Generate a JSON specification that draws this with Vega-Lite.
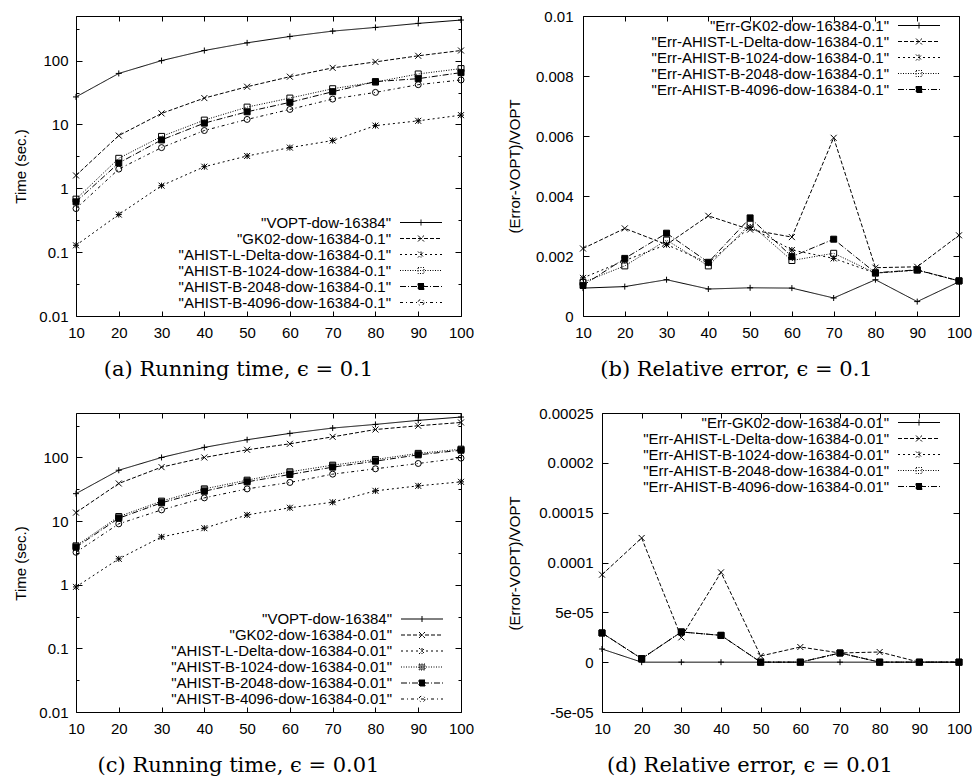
{
  "$schema": "https://vega.github.io/schema/vega-lite/v6.json",
  "background": "white",
  "padding": {"left": 12, "top": 8, "right": 0, "bottom": 0},
  "autosize": {"type": "pad"},
  "spacing": 25,
  "datasets": {
    "a": [
      {"x":10,"s":"\"VOPT-dow-16384\"","v":27},{"x":20,"s":"\"VOPT-dow-16384\"","v":63},{"x":30,"s":"\"VOPT-dow-16384\"","v":100},{"x":40,"s":"\"VOPT-dow-16384\"","v":144},{"x":50,"s":"\"VOPT-dow-16384\"","v":190},{"x":60,"s":"\"VOPT-dow-16384\"","v":239},{"x":70,"s":"\"VOPT-dow-16384\"","v":290},{"x":80,"s":"\"VOPT-dow-16384\"","v":331},{"x":90,"s":"\"VOPT-dow-16384\"","v":383},{"x":100,"s":"\"VOPT-dow-16384\"","v":432},
      {"x":10,"s":"\"GK02-dow-16384-0.1\"","v":1.59},{"x":20,"s":"\"GK02-dow-16384-0.1\"","v":6.7},{"x":30,"s":"\"GK02-dow-16384-0.1\"","v":14.9},{"x":40,"s":"\"GK02-dow-16384-0.1\"","v":25.9},{"x":50,"s":"\"GK02-dow-16384-0.1\"","v":39},{"x":60,"s":"\"GK02-dow-16384-0.1\"","v":56},{"x":70,"s":"\"GK02-dow-16384-0.1\"","v":77},{"x":80,"s":"\"GK02-dow-16384-0.1\"","v":95.5},{"x":90,"s":"\"GK02-dow-16384-0.1\"","v":119},{"x":100,"s":"\"GK02-dow-16384-0.1\"","v":144},
      {"x":10,"s":"\"AHIST-L-Delta-dow-16384-0.1\"","v":0.128},{"x":20,"s":"\"AHIST-L-Delta-dow-16384-0.1\"","v":0.388},{"x":30,"s":"\"AHIST-L-Delta-dow-16384-0.1\"","v":1.1},{"x":40,"s":"\"AHIST-L-Delta-dow-16384-0.1\"","v":2.18},{"x":50,"s":"\"AHIST-L-Delta-dow-16384-0.1\"","v":3.21},{"x":60,"s":"\"AHIST-L-Delta-dow-16384-0.1\"","v":4.34},{"x":70,"s":"\"AHIST-L-Delta-dow-16384-0.1\"","v":5.6},{"x":80,"s":"\"AHIST-L-Delta-dow-16384-0.1\"","v":9.6},{"x":90,"s":"\"AHIST-L-Delta-dow-16384-0.1\"","v":11.4},{"x":100,"s":"\"AHIST-L-Delta-dow-16384-0.1\"","v":14.0},
      {"x":10,"s":"\"AHIST-B-1024-dow-16384-0.1\"","v":0.676},{"x":20,"s":"\"AHIST-B-1024-dow-16384-0.1\"","v":2.95},{"x":30,"s":"\"AHIST-B-1024-dow-16384-0.1\"","v":6.5},{"x":40,"s":"\"AHIST-B-1024-dow-16384-0.1\"","v":11.7},{"x":50,"s":"\"AHIST-B-1024-dow-16384-0.1\"","v":18.7},{"x":60,"s":"\"AHIST-B-1024-dow-16384-0.1\"","v":25.9},{"x":70,"s":"\"AHIST-B-1024-dow-16384-0.1\"","v":36.3},{"x":80,"s":"\"AHIST-B-1024-dow-16384-0.1\"","v":46.2},{"x":90,"s":"\"AHIST-B-1024-dow-16384-0.1\"","v":61.8},{"x":100,"s":"\"AHIST-B-1024-dow-16384-0.1\"","v":75},
      {"x":10,"s":"\"AHIST-B-2048-dow-16384-0.1\"","v":0.614},{"x":20,"s":"\"AHIST-B-2048-dow-16384-0.1\"","v":2.49},{"x":30,"s":"\"AHIST-B-2048-dow-16384-0.1\"","v":5.73},{"x":40,"s":"\"AHIST-B-2048-dow-16384-0.1\"","v":10.5},{"x":50,"s":"\"AHIST-B-2048-dow-16384-0.1\"","v":15.8},{"x":60,"s":"\"AHIST-B-2048-dow-16384-0.1\"","v":22.2},{"x":70,"s":"\"AHIST-B-2048-dow-16384-0.1\"","v":32.6},{"x":80,"s":"\"AHIST-B-2048-dow-16384-0.1\"","v":46.9},{"x":90,"s":"\"AHIST-B-2048-dow-16384-0.1\"","v":52.2},{"x":100,"s":"\"AHIST-B-2048-dow-16384-0.1\"","v":64.9},
      {"x":10,"s":"\"AHIST-B-4096-dow-16384-0.1\"","v":0.482},{"x":20,"s":"\"AHIST-B-4096-dow-16384-0.1\"","v":2.0},{"x":30,"s":"\"AHIST-B-4096-dow-16384-0.1\"","v":4.34},{"x":40,"s":"\"AHIST-B-4096-dow-16384-0.1\"","v":8.04},{"x":50,"s":"\"AHIST-B-4096-dow-16384-0.1\"","v":12.0},{"x":60,"s":"\"AHIST-B-4096-dow-16384-0.1\"","v":17.2},{"x":70,"s":"\"AHIST-B-4096-dow-16384-0.1\"","v":25.0},{"x":80,"s":"\"AHIST-B-4096-dow-16384-0.1\"","v":31.8},{"x":90,"s":"\"AHIST-B-4096-dow-16384-0.1\"","v":42.0},{"x":100,"s":"\"AHIST-B-4096-dow-16384-0.1\"","v":49.8}
    ],
    "b": [
      {"x":10,"s":"\"Err-GK02-dow-16384-0.1\"","v":0.00093},{"x":20,"s":"\"Err-GK02-dow-16384-0.1\"","v":0.00098},{"x":30,"s":"\"Err-GK02-dow-16384-0.1\"","v":0.00121},{"x":40,"s":"\"Err-GK02-dow-16384-0.1\"","v":0.0009},{"x":50,"s":"\"Err-GK02-dow-16384-0.1\"","v":0.00094},{"x":60,"s":"\"Err-GK02-dow-16384-0.1\"","v":0.00093},{"x":70,"s":"\"Err-GK02-dow-16384-0.1\"","v":0.0006},{"x":80,"s":"\"Err-GK02-dow-16384-0.1\"","v":0.00121},{"x":90,"s":"\"Err-GK02-dow-16384-0.1\"","v":0.00048},{"x":100,"s":"\"Err-GK02-dow-16384-0.1\"","v":0.00114},
      {"x":10,"s":"\"Err-AHIST-L-Delta-dow-16384-0.1\"","v":0.00225},{"x":20,"s":"\"Err-AHIST-L-Delta-dow-16384-0.1\"","v":0.00292},{"x":30,"s":"\"Err-AHIST-L-Delta-dow-16384-0.1\"","v":0.00238},{"x":40,"s":"\"Err-AHIST-L-Delta-dow-16384-0.1\"","v":0.00334},{"x":50,"s":"\"Err-AHIST-L-Delta-dow-16384-0.1\"","v":0.00288},{"x":60,"s":"\"Err-AHIST-L-Delta-dow-16384-0.1\"","v":0.00263},{"x":70,"s":"\"Err-AHIST-L-Delta-dow-16384-0.1\"","v":0.00594},{"x":80,"s":"\"Err-AHIST-L-Delta-dow-16384-0.1\"","v":0.00161},{"x":90,"s":"\"Err-AHIST-L-Delta-dow-16384-0.1\"","v":0.00164},{"x":100,"s":"\"Err-AHIST-L-Delta-dow-16384-0.1\"","v":0.00269},
      {"x":10,"s":"\"Err-AHIST-B-1024-dow-16384-0.1\"","v":0.00127},{"x":20,"s":"\"Err-AHIST-B-1024-dow-16384-0.1\"","v":0.00185},{"x":30,"s":"\"Err-AHIST-B-1024-dow-16384-0.1\"","v":0.00238},{"x":40,"s":"\"Err-AHIST-B-1024-dow-16384-0.1\"","v":0.00177},{"x":50,"s":"\"Err-AHIST-B-1024-dow-16384-0.1\"","v":0.00296},{"x":60,"s":"\"Err-AHIST-B-1024-dow-16384-0.1\"","v":0.0022},{"x":70,"s":"\"Err-AHIST-B-1024-dow-16384-0.1\"","v":0.00192},{"x":80,"s":"\"Err-AHIST-B-1024-dow-16384-0.1\"","v":0.00143},{"x":90,"s":"\"Err-AHIST-B-1024-dow-16384-0.1\"","v":0.00153},{"x":100,"s":"\"Err-AHIST-B-1024-dow-16384-0.1\"","v":0.00117},
      {"x":10,"s":"\"Err-AHIST-B-2048-dow-16384-0.1\"","v":0.00112},{"x":20,"s":"\"Err-AHIST-B-2048-dow-16384-0.1\"","v":0.00167},{"x":30,"s":"\"Err-AHIST-B-2048-dow-16384-0.1\"","v":0.00253},{"x":40,"s":"\"Err-AHIST-B-2048-dow-16384-0.1\"","v":0.00167},{"x":50,"s":"\"Err-AHIST-B-2048-dow-16384-0.1\"","v":0.00306},{"x":60,"s":"\"Err-AHIST-B-2048-dow-16384-0.1\"","v":0.00185},{"x":70,"s":"\"Err-AHIST-B-2048-dow-16384-0.1\"","v":0.00209},{"x":80,"s":"\"Err-AHIST-B-2048-dow-16384-0.1\"","v":0.00143},{"x":90,"s":"\"Err-AHIST-B-2048-dow-16384-0.1\"","v":0.00153},{"x":100,"s":"\"Err-AHIST-B-2048-dow-16384-0.1\"","v":0.00117},
      {"x":10,"s":"\"Err-AHIST-B-4096-dow-16384-0.1\"","v":0.00102},{"x":20,"s":"\"Err-AHIST-B-4096-dow-16384-0.1\"","v":0.00192},{"x":30,"s":"\"Err-AHIST-B-4096-dow-16384-0.1\"","v":0.00276},{"x":40,"s":"\"Err-AHIST-B-4096-dow-16384-0.1\"","v":0.00179},{"x":50,"s":"\"Err-AHIST-B-4096-dow-16384-0.1\"","v":0.00327},{"x":60,"s":"\"Err-AHIST-B-4096-dow-16384-0.1\"","v":0.00198},{"x":70,"s":"\"Err-AHIST-B-4096-dow-16384-0.1\"","v":0.00256},{"x":80,"s":"\"Err-AHIST-B-4096-dow-16384-0.1\"","v":0.00144},{"x":90,"s":"\"Err-AHIST-B-4096-dow-16384-0.1\"","v":0.00154},{"x":100,"s":"\"Err-AHIST-B-4096-dow-16384-0.1\"","v":0.00117}
    ],
    "c": [
      {"x":10,"s":"\"VOPT-dow-16384\"","v":27},{"x":20,"s":"\"VOPT-dow-16384\"","v":63},{"x":30,"s":"\"VOPT-dow-16384\"","v":100},{"x":40,"s":"\"VOPT-dow-16384\"","v":144},{"x":50,"s":"\"VOPT-dow-16384\"","v":190},{"x":60,"s":"\"VOPT-dow-16384\"","v":239},{"x":70,"s":"\"VOPT-dow-16384\"","v":290},{"x":80,"s":"\"VOPT-dow-16384\"","v":331},{"x":90,"s":"\"VOPT-dow-16384\"","v":383},{"x":100,"s":"\"VOPT-dow-16384\"","v":432},
      {"x":10,"s":"\"GK02-dow-16384-0.01\"","v":13.6},{"x":20,"s":"\"GK02-dow-16384-0.01\"","v":39},{"x":30,"s":"\"GK02-dow-16384-0.01\"","v":70.5},{"x":40,"s":"\"GK02-dow-16384-0.01\"","v":100},{"x":50,"s":"\"GK02-dow-16384-0.01\"","v":132},{"x":60,"s":"\"GK02-dow-16384-0.01\"","v":164},{"x":70,"s":"\"GK02-dow-16384-0.01\"","v":211},{"x":80,"s":"\"GK02-dow-16384-0.01\"","v":275},{"x":90,"s":"\"GK02-dow-16384-0.01\"","v":315},{"x":100,"s":"\"GK02-dow-16384-0.01\"","v":355},
      {"x":10,"s":"\"AHIST-L-Delta-dow-16384-0.01\"","v":0.925},{"x":20,"s":"\"AHIST-L-Delta-dow-16384-0.01\"","v":2.55},{"x":30,"s":"\"AHIST-L-Delta-dow-16384-0.01\"","v":5.65},{"x":40,"s":"\"AHIST-L-Delta-dow-16384-0.01\"","v":7.74},{"x":50,"s":"\"AHIST-L-Delta-dow-16384-0.01\"","v":12.5},{"x":60,"s":"\"AHIST-L-Delta-dow-16384-0.01\"","v":16.2},{"x":70,"s":"\"AHIST-L-Delta-dow-16384-0.01\"","v":19.8},{"x":80,"s":"\"AHIST-L-Delta-dow-16384-0.01\"","v":29.9},{"x":90,"s":"\"AHIST-L-Delta-dow-16384-0.01\"","v":35.8},{"x":100,"s":"\"AHIST-L-Delta-dow-16384-0.01\"","v":41.4},
      {"x":10,"s":"\"AHIST-B-1024-dow-16384-0.01\"","v":4.08},{"x":20,"s":"\"AHIST-B-1024-dow-16384-0.01\"","v":11.8},{"x":30,"s":"\"AHIST-B-1024-dow-16384-0.01\"","v":20.6},{"x":40,"s":"\"AHIST-B-1024-dow-16384-0.01\"","v":32.1},{"x":50,"s":"\"AHIST-B-1024-dow-16384-0.01\"","v":44},{"x":60,"s":"\"AHIST-B-1024-dow-16384-0.01\"","v":59.5},{"x":70,"s":"\"AHIST-B-1024-dow-16384-0.01\"","v":75.7},{"x":80,"s":"\"AHIST-B-1024-dow-16384-0.01\"","v":93},{"x":90,"s":"\"AHIST-B-1024-dow-16384-0.01\"","v":116},{"x":100,"s":"\"AHIST-B-1024-dow-16384-0.01\"","v":135},
      {"x":10,"s":"\"AHIST-B-2048-dow-16384-0.01\"","v":3.89},{"x":20,"s":"\"AHIST-B-2048-dow-16384-0.01\"","v":11.1},{"x":30,"s":"\"AHIST-B-2048-dow-16384-0.01\"","v":19.4},{"x":40,"s":"\"AHIST-B-2048-dow-16384-0.01\"","v":29.5},{"x":50,"s":"\"AHIST-B-2048-dow-16384-0.01\"","v":41.4},{"x":60,"s":"\"AHIST-B-2048-dow-16384-0.01\"","v":54},{"x":70,"s":"\"AHIST-B-2048-dow-16384-0.01\"","v":70.5},{"x":80,"s":"\"AHIST-B-2048-dow-16384-0.01\"","v":87.5},{"x":90,"s":"\"AHIST-B-2048-dow-16384-0.01\"","v":110},{"x":100,"s":"\"AHIST-B-2048-dow-16384-0.01\"","v":130},
      {"x":10,"s":"\"AHIST-B-4096-dow-16384-0.01\"","v":3.24},{"x":20,"s":"\"AHIST-B-4096-dow-16384-0.01\"","v":9.06},{"x":30,"s":"\"AHIST-B-4096-dow-16384-0.01\"","v":15.0},{"x":40,"s":"\"AHIST-B-4096-dow-16384-0.01\"","v":23.2},{"x":50,"s":"\"AHIST-B-4096-dow-16384-0.01\"","v":32.1},{"x":60,"s":"\"AHIST-B-4096-dow-16384-0.01\"","v":40.5},{"x":70,"s":"\"AHIST-B-4096-dow-16384-0.01\"","v":54.7},{"x":80,"s":"\"AHIST-B-4096-dow-16384-0.01\"","v":66.4},{"x":90,"s":"\"AHIST-B-4096-dow-16384-0.01\"","v":80.5},{"x":100,"s":"\"AHIST-B-4096-dow-16384-0.01\"","v":97.7}
    ],
    "d": [
      {"x":10,"s":"\"Err-GK02-dow-16384-0.01\"","v":0.0000132},{"x":20,"s":"\"Err-GK02-dow-16384-0.01\"","v":0},{"x":30,"s":"\"Err-GK02-dow-16384-0.01\"","v":0},{"x":40,"s":"\"Err-GK02-dow-16384-0.01\"","v":0},{"x":50,"s":"\"Err-GK02-dow-16384-0.01\"","v":0},{"x":60,"s":"\"Err-GK02-dow-16384-0.01\"","v":0},{"x":70,"s":"\"Err-GK02-dow-16384-0.01\"","v":0},{"x":80,"s":"\"Err-GK02-dow-16384-0.01\"","v":0},{"x":90,"s":"\"Err-GK02-dow-16384-0.01\"","v":0},{"x":100,"s":"\"Err-GK02-dow-16384-0.01\"","v":0},
      {"x":10,"s":"\"Err-AHIST-L-Delta-dow-16384-0.01\"","v":0.0000878},{"x":20,"s":"\"Err-AHIST-L-Delta-dow-16384-0.01\"","v":0.0001246},{"x":30,"s":"\"Err-AHIST-L-Delta-dow-16384-0.01\"","v":0.0000249},{"x":40,"s":"\"Err-AHIST-L-Delta-dow-16384-0.01\"","v":0.0000901},{"x":50,"s":"\"Err-AHIST-L-Delta-dow-16384-0.01\"","v":0.0000062},{"x":60,"s":"\"Err-AHIST-L-Delta-dow-16384-0.01\"","v":0.0000152},{"x":70,"s":"\"Err-AHIST-L-Delta-dow-16384-0.01\"","v":0.0000092},{"x":80,"s":"\"Err-AHIST-L-Delta-dow-16384-0.01\"","v":0.0000102},{"x":90,"s":"\"Err-AHIST-L-Delta-dow-16384-0.01\"","v":0},{"x":100,"s":"\"Err-AHIST-L-Delta-dow-16384-0.01\"","v":0},
      {"x":10,"s":"\"Err-AHIST-B-1024-dow-16384-0.01\"","v":0.0000293},{"x":20,"s":"\"Err-AHIST-B-1024-dow-16384-0.01\"","v":0.0000035},{"x":30,"s":"\"Err-AHIST-B-1024-dow-16384-0.01\"","v":0.0000303},{"x":40,"s":"\"Err-AHIST-B-1024-dow-16384-0.01\"","v":0.0000269},{"x":50,"s":"\"Err-AHIST-B-1024-dow-16384-0.01\"","v":0},{"x":60,"s":"\"Err-AHIST-B-1024-dow-16384-0.01\"","v":0},{"x":70,"s":"\"Err-AHIST-B-1024-dow-16384-0.01\"","v":0.0000092},{"x":80,"s":"\"Err-AHIST-B-1024-dow-16384-0.01\"","v":0},{"x":90,"s":"\"Err-AHIST-B-1024-dow-16384-0.01\"","v":0},{"x":100,"s":"\"Err-AHIST-B-1024-dow-16384-0.01\"","v":0},
      {"x":10,"s":"\"Err-AHIST-B-2048-dow-16384-0.01\"","v":0.0000293},{"x":20,"s":"\"Err-AHIST-B-2048-dow-16384-0.01\"","v":0.0000035},{"x":30,"s":"\"Err-AHIST-B-2048-dow-16384-0.01\"","v":0.0000303},{"x":40,"s":"\"Err-AHIST-B-2048-dow-16384-0.01\"","v":0.0000269},{"x":50,"s":"\"Err-AHIST-B-2048-dow-16384-0.01\"","v":0},{"x":60,"s":"\"Err-AHIST-B-2048-dow-16384-0.01\"","v":0},{"x":70,"s":"\"Err-AHIST-B-2048-dow-16384-0.01\"","v":0.0000092},{"x":80,"s":"\"Err-AHIST-B-2048-dow-16384-0.01\"","v":0},{"x":90,"s":"\"Err-AHIST-B-2048-dow-16384-0.01\"","v":0},{"x":100,"s":"\"Err-AHIST-B-2048-dow-16384-0.01\"","v":0},
      {"x":10,"s":"\"Err-AHIST-B-4096-dow-16384-0.01\"","v":0.0000293},{"x":20,"s":"\"Err-AHIST-B-4096-dow-16384-0.01\"","v":0.0000035},{"x":30,"s":"\"Err-AHIST-B-4096-dow-16384-0.01\"","v":0.0000303},{"x":40,"s":"\"Err-AHIST-B-4096-dow-16384-0.01\"","v":0.0000269},{"x":50,"s":"\"Err-AHIST-B-4096-dow-16384-0.01\"","v":0},{"x":60,"s":"\"Err-AHIST-B-4096-dow-16384-0.01\"","v":0},{"x":70,"s":"\"Err-AHIST-B-4096-dow-16384-0.01\"","v":0.0000092},{"x":80,"s":"\"Err-AHIST-B-4096-dow-16384-0.01\"","v":0},{"x":90,"s":"\"Err-AHIST-B-4096-dow-16384-0.01\"","v":0},{"x":100,"s":"\"Err-AHIST-B-4096-dow-16384-0.01\"","v":0}
    ]
  },
  "vconcat": [
    {
      "hconcat": [
        {
          "width": 385, "height": 300,
          "data": {"name": "a"},
          "layer": [
            {
              "layer": [
                {
                  "mark": {"type": "line", "strokeWidth": 1, "color": "black"},
                  "encoding": {
                    "x": {"field": "x", "type": "quantitative", "scale": {"domain": [10, 100], "nice": false},
                      "axis": {"orient": "bottom", "values": [10,20,30,40,50,60,70,80,90,100], "tickCount": 30, "tickSize": -5, "labelPadding": 14, "labelOverlap": false,
                        "title": "(a) Running time, ϵ = 0.1", "titleFont": "DejaVu Serif", "titleFontSize": 21, "titleX": 162, "titleY": 59, "titleAlign": "center", "titleBaseline": "alphabetic", "titleAngle": 0}},
                    "y": {"field": "v", "type": "quantitative", "scale": {"type": "log", "domain": [0.01, 500], "nice": false},
                      "axis": {"orient": "left", "values": [0.01,0.031623,0.1,0.31623,1,3.1623,10,31.623,100,316.23], "tickCount": 30, "labelOverlap": false,
                        "tickSize": {"condition": {"test": "indexof([0.01,0.1,1,10,100], datum.value) < 0", "value": -3}, "value": -6},
                        "labelPadding": 14,
                        "labelExpr": "datum.value == 0.01 ? '0.01' : datum.value == 0.1 ? '0.1' : datum.value == 1 ? '1' : datum.value == 10 ? '10' : datum.value == 100 ? '100' : ''",
                        "title": "Time (sec.)", "titleX": -48, "titleY": 150, "titleAngle": 270, "titleAlign": "center", "titleBaseline": "bottom"}},
                    "strokeDash": {"field": "s", "type": "nominal",
                      "scale": {"domain": ["\"VOPT-dow-16384\"","\"GK02-dow-16384-0.1\"","\"AHIST-L-Delta-dow-16384-0.1\"","\"AHIST-B-1024-dow-16384-0.1\"","\"AHIST-B-2048-dow-16384-0.1\"","\"AHIST-B-4096-dow-16384-0.1\""],
                        "range": [[1,0],[4,2],[2,3],[1,1.5],[6,2,1,2],[3,3,1,3]]}, "legend": null}
                  }
                },
                {
                  "mark": {"type": "point", "size": 36, "strokeWidth": 1, "stroke": "black", "opacity": 1},
                  "encoding": {
                    "x": {"field": "x", "type": "quantitative"},
                    "y": {"field": "v", "type": "quantitative"},
                    "shape": {"field": "s", "type": "nominal",
                      "scale": {"domain": ["\"VOPT-dow-16384\"","\"GK02-dow-16384-0.1\"","\"AHIST-L-Delta-dow-16384-0.1\"","\"AHIST-B-1024-dow-16384-0.1\"","\"AHIST-B-2048-dow-16384-0.1\"","\"AHIST-B-4096-dow-16384-0.1\""],
                        "range": ["M-1,0H1M0,-1V1","M-1,-1L1,1M-1,1L1,-1","M-1,0H1M0,-1V1M-1,-1L1,1M-1,1L1,-1","square","square","circle"]}, "legend": null},
                    "fill": {"field": "s", "type": "nominal",
                      "scale": {"domain": ["\"VOPT-dow-16384\"","\"GK02-dow-16384-0.1\"","\"AHIST-L-Delta-dow-16384-0.1\"","\"AHIST-B-1024-dow-16384-0.1\"","\"AHIST-B-2048-dow-16384-0.1\"","\"AHIST-B-4096-dow-16384-0.1\""],
                        "range": ["black","black","black","transparent","black","transparent"]}, "legend": null}
                  }
                }
              ]
            },
            {
              "mark": {"type": "point", "opacity": 0, "size": 36, "strokeWidth": 1},
              "encoding": {
                "x": {"field": "x", "type": "quantitative", "scale": {"domain": [10, 100], "nice": false},
                  "axis": {"orient": "top", "values": [10,20,30,40,50,60,70,80,90,100], "tickCount": 30, "labels": false, "tickSize": -5, "title": null}},
                "y": {"field": "v", "type": "quantitative", "scale": {"type": "log", "domain": [0.01, 500], "nice": false},
                  "axis": {"orient": "right", "values": [0.01,0.031623,0.1,0.31623,1,3.1623,10,31.623,100,316.23], "tickCount": 30, "labels": false, "title": null,
                    "tickSize": {"condition": {"test": "indexof([0.01,0.1,1,10,100], datum.value) < 0", "value": -3}, "value": -6}}},
                "shape": {"field": "s", "type": "nominal",
                  "scale": {"domain": ["\"VOPT-dow-16384\"","\"GK02-dow-16384-0.1\"","\"AHIST-L-Delta-dow-16384-0.1\"","\"AHIST-B-1024-dow-16384-0.1\"","\"AHIST-B-2048-dow-16384-0.1\"","\"AHIST-B-4096-dow-16384-0.1\""],
                    "range": ["M-7,0H7M0,-1V1","M-7,0H7M-1,-1L1,1M-1,1L1,-1","M-7,0H7M0,-1V1M-1,-1L1,1M-1,1L1,-1","M-7,0H7M-1,-1H1V1H-1Z","M-7,0H7M-1,-1H1V1H-1Z","M-7,0H7M1,0A1,1,0,1,1,-1,0A1,1,0,1,1,1,0Z"]},
                  "legend": {"orient": "none", "legendX": 337.5, "legendY": 199, "title": null, "labelAlign": "right", "labelOffset": -37.5, "symbolSize": 36, "symbolStrokeWidth": 1, "symbolOpacity": 1, "padding": 0, "rowPadding": 0, "labelFontSize": 15, "labelFont": "Liberation Sans", "labelColor": "black", "labelLimit": 500}},
                "stroke": {"field": "s", "type": "nominal",
                  "scale": {"domain": ["\"VOPT-dow-16384\"","\"GK02-dow-16384-0.1\"","\"AHIST-L-Delta-dow-16384-0.1\"","\"AHIST-B-1024-dow-16384-0.1\"","\"AHIST-B-2048-dow-16384-0.1\"","\"AHIST-B-4096-dow-16384-0.1\""],
                    "range": ["black","black","black","black","black","black"]},
                  "legend": {"orient": "none", "legendX": 337.5, "legendY": 199, "title": null, "labelAlign": "right", "labelOffset": -37.5, "symbolSize": 36, "symbolStrokeWidth": 1, "symbolOpacity": 1, "padding": 0, "rowPadding": 0, "labelFontSize": 15, "labelFont": "Liberation Sans", "labelColor": "black", "labelLimit": 500}},
                "strokeDash": {"field": "s", "type": "nominal",
                  "scale": {"domain": ["\"VOPT-dow-16384\"","\"GK02-dow-16384-0.1\"","\"AHIST-L-Delta-dow-16384-0.1\"","\"AHIST-B-1024-dow-16384-0.1\"","\"AHIST-B-2048-dow-16384-0.1\"","\"AHIST-B-4096-dow-16384-0.1\""],
                    "range": [[1,0],[4,2],[2,3],[1,1.5],[6,2,1,2],[3,3,1,3]]},
                  "legend": {"orient": "none", "legendX": 337.5, "legendY": 199, "title": null, "labelAlign": "right", "labelOffset": -37.5, "symbolSize": 36, "symbolStrokeWidth": 1, "symbolOpacity": 1, "padding": 0, "rowPadding": 0, "labelFontSize": 15, "labelFont": "Liberation Sans", "labelColor": "black", "labelLimit": 500}},
                "fill": {"field": "s", "type": "nominal",
                  "scale": {"domain": ["\"VOPT-dow-16384\"","\"GK02-dow-16384-0.1\"","\"AHIST-L-Delta-dow-16384-0.1\"","\"AHIST-B-1024-dow-16384-0.1\"","\"AHIST-B-2048-dow-16384-0.1\"","\"AHIST-B-4096-dow-16384-0.1\""],
                    "range": ["black","black","black","transparent","black","transparent"]},
                  "legend": {"orient": "none", "legendX": 337.5, "legendY": 199, "title": null, "labelAlign": "right", "labelOffset": -37.5, "symbolSize": 36, "symbolStrokeWidth": 1, "symbolOpacity": 1, "padding": 0, "rowPadding": 0, "labelFontSize": 15, "labelFont": "Liberation Sans", "labelColor": "black", "labelLimit": 500}}
              }
            }
          ],
          "resolve": {"scale": {"x": "independent", "y": "independent", "shape": "independent", "fill": "independent", "stroke": "independent", "strokeDash": "independent"}}
        },
        {
          "width": 376, "height": 300,
          "data": {"name": "b"},
          "layer": [
            {
              "layer": [
                {
                  "mark": {"type": "line", "strokeWidth": 1, "color": "black"},
                  "encoding": {
                    "x": {"field": "x", "type": "quantitative", "scale": {"domain": [10, 100], "nice": false},
                      "axis": {"orient": "bottom", "values": [10,20,30,40,50,60,70,80,90,100], "tickCount": 30, "tickSize": -5, "labelPadding": 14, "labelOverlap": false,
                        "title": "(b) Relative error, ϵ = 0.1", "titleFont": "DejaVu Serif", "titleFontSize": 21, "titleX": 153, "titleY": 59, "titleAlign": "center", "titleBaseline": "alphabetic", "titleAngle": 0}},
                    "y": {"field": "v", "type": "quantitative", "scale": {"domain": [0, 0.01], "nice": false},
                      "axis": {"orient": "left", "values": [0,0.002,0.004,0.006,0.008,0.01], "tickCount": 30, "tickSize": -6, "labelPadding": 16, "labelOverlap": false,
                        "labelExpr": "format(datum.value, '')",
                        "title": "(Error-VOPT)/VOPT", "titleX": -61, "titleY": 150, "titleAngle": 270, "titleAlign": "center", "titleBaseline": "bottom"}},
                    "strokeDash": {"field": "s", "type": "nominal",
                      "scale": {"domain": ["\"Err-GK02-dow-16384-0.1\"","\"Err-AHIST-L-Delta-dow-16384-0.1\"","\"Err-AHIST-B-1024-dow-16384-0.1\"","\"Err-AHIST-B-2048-dow-16384-0.1\"","\"Err-AHIST-B-4096-dow-16384-0.1\""],
                        "range": [[1,0],[4,2],[2,3],[1,1.5],[6,2,1,2]]}, "legend": null}
                  }
                },
                {
                  "mark": {"type": "point", "size": 36, "strokeWidth": 1, "stroke": "black", "opacity": 1},
                  "encoding": {
                    "x": {"field": "x", "type": "quantitative"},
                    "y": {"field": "v", "type": "quantitative"},
                    "shape": {"field": "s", "type": "nominal",
                      "scale": {"domain": ["\"Err-GK02-dow-16384-0.1\"","\"Err-AHIST-L-Delta-dow-16384-0.1\"","\"Err-AHIST-B-1024-dow-16384-0.1\"","\"Err-AHIST-B-2048-dow-16384-0.1\"","\"Err-AHIST-B-4096-dow-16384-0.1\""],
                        "range": ["M-1,0H1M0,-1V1","M-1,-1L1,1M-1,1L1,-1","M-1,0H1M0,-1V1M-1,-1L1,1M-1,1L1,-1","square","square"]}, "legend": null},
                    "fill": {"field": "s", "type": "nominal",
                      "scale": {"domain": ["\"Err-GK02-dow-16384-0.1\"","\"Err-AHIST-L-Delta-dow-16384-0.1\"","\"Err-AHIST-B-1024-dow-16384-0.1\"","\"Err-AHIST-B-2048-dow-16384-0.1\"","\"Err-AHIST-B-4096-dow-16384-0.1\""],
                        "range": ["black","black","black","transparent","black"]}, "legend": null}
                  }
                }
              ]
            },
            {
              "mark": {"type": "point", "opacity": 0, "size": 36, "strokeWidth": 1},
              "encoding": {
                "x": {"field": "x", "type": "quantitative", "scale": {"domain": [10, 100], "nice": false},
                  "axis": {"orient": "top", "values": [10,20,30,40,50,60,70,80,90,100], "tickCount": 30, "labels": false, "tickSize": -5, "title": null}},
                "y": {"field": "v", "type": "quantitative", "scale": {"domain": [0, 0.01], "nice": false},
                  "axis": {"orient": "right", "values": [0,0.002,0.004,0.006,0.008,0.01], "tickCount": 30, "labels": false, "title": null, "tickSize": -6}},
                "shape": {"field": "s", "type": "nominal",
                  "scale": {"domain": ["\"Err-GK02-dow-16384-0.1\"","\"Err-AHIST-L-Delta-dow-16384-0.1\"","\"Err-AHIST-B-1024-dow-16384-0.1\"","\"Err-AHIST-B-2048-dow-16384-0.1\"","\"Err-AHIST-B-4096-dow-16384-0.1\""],
                    "range": ["M-7,0H7M0,-1V1","M-7,0H7M-1,-1L1,1M-1,1L1,-1","M-7,0H7M0,-1V1M-1,-1L1,1M-1,1L1,-1","M-7,0H7M-1,-1H1V1H-1Z","M-7,0H7M-1,-1H1V1H-1Z"]},
                  "legend": {"orient": "none", "legendX": 328.5, "legendY": 2, "title": null, "labelAlign": "right", "labelOffset": -37.5, "symbolSize": 36, "symbolStrokeWidth": 1, "symbolOpacity": 1, "padding": 0, "rowPadding": 0, "labelFontSize": 15, "labelFont": "Liberation Sans", "labelColor": "black", "labelLimit": 500}},
                "stroke": {"field": "s", "type": "nominal",
                  "scale": {"domain": ["\"Err-GK02-dow-16384-0.1\"","\"Err-AHIST-L-Delta-dow-16384-0.1\"","\"Err-AHIST-B-1024-dow-16384-0.1\"","\"Err-AHIST-B-2048-dow-16384-0.1\"","\"Err-AHIST-B-4096-dow-16384-0.1\""],
                    "range": ["black","black","black","black","black"]},
                  "legend": {"orient": "none", "legendX": 328.5, "legendY": 2, "title": null, "labelAlign": "right", "labelOffset": -37.5, "symbolSize": 36, "symbolStrokeWidth": 1, "symbolOpacity": 1, "padding": 0, "rowPadding": 0, "labelFontSize": 15, "labelFont": "Liberation Sans", "labelColor": "black", "labelLimit": 500}},
                "strokeDash": {"field": "s", "type": "nominal",
                  "scale": {"domain": ["\"Err-GK02-dow-16384-0.1\"","\"Err-AHIST-L-Delta-dow-16384-0.1\"","\"Err-AHIST-B-1024-dow-16384-0.1\"","\"Err-AHIST-B-2048-dow-16384-0.1\"","\"Err-AHIST-B-4096-dow-16384-0.1\""],
                    "range": [[1,0],[4,2],[2,3],[1,1.5],[6,2,1,2]]},
                  "legend": {"orient": "none", "legendX": 328.5, "legendY": 2, "title": null, "labelAlign": "right", "labelOffset": -37.5, "symbolSize": 36, "symbolStrokeWidth": 1, "symbolOpacity": 1, "padding": 0, "rowPadding": 0, "labelFontSize": 15, "labelFont": "Liberation Sans", "labelColor": "black", "labelLimit": 500}},
                "fill": {"field": "s", "type": "nominal",
                  "scale": {"domain": ["\"Err-GK02-dow-16384-0.1\"","\"Err-AHIST-L-Delta-dow-16384-0.1\"","\"Err-AHIST-B-1024-dow-16384-0.1\"","\"Err-AHIST-B-2048-dow-16384-0.1\"","\"Err-AHIST-B-4096-dow-16384-0.1\""],
                    "range": ["black","black","black","transparent","black"]},
                  "legend": {"orient": "none", "legendX": 328.5, "legendY": 2, "title": null, "labelAlign": "right", "labelOffset": -37.5, "symbolSize": 36, "symbolStrokeWidth": 1, "symbolOpacity": 1, "padding": 0, "rowPadding": 0, "labelFontSize": 15, "labelFont": "Liberation Sans", "labelColor": "black", "labelLimit": 500}}
              }
            }
          ],
          "resolve": {"scale": {"x": "independent", "y": "independent", "shape": "independent", "fill": "independent", "stroke": "independent", "strokeDash": "independent"}}
        }
      ],
      "spacing": 122,
      "bounds": "flush"
    },
    {
      "hconcat": [
        {
          "width": 385, "height": 299,
          "data": {"name": "c"},
          "layer": [
            {
              "layer": [
                {
                  "mark": {"type": "line", "strokeWidth": 1, "color": "black"},
                  "encoding": {
                    "x": {"field": "x", "type": "quantitative", "scale": {"domain": [10, 100], "nice": false},
                      "axis": {"orient": "bottom", "values": [10,20,30,40,50,60,70,80,90,100], "tickCount": 30, "tickSize": -5, "labelPadding": 14, "labelOverlap": false,
                        "title": "(c) Running time, ϵ = 0.01", "titleFont": "DejaVu Serif", "titleFontSize": 21, "titleX": 162, "titleY": 59, "titleAlign": "center", "titleBaseline": "alphabetic", "titleAngle": 0}},
                    "y": {"field": "v", "type": "quantitative", "scale": {"type": "log", "domain": [0.01, 500], "nice": false},
                      "axis": {"orient": "left", "values": [0.01,0.031623,0.1,0.31623,1,3.1623,10,31.623,100,316.23], "tickCount": 30, "labelOverlap": false,
                        "tickSize": {"condition": {"test": "indexof([0.01,0.1,1,10,100], datum.value) < 0", "value": -3}, "value": -6},
                        "labelPadding": 14,
                        "labelExpr": "datum.value == 0.01 ? '0.01' : datum.value == 0.1 ? '0.1' : datum.value == 1 ? '1' : datum.value == 10 ? '10' : datum.value == 100 ? '100' : ''",
                        "title": "Time (sec.)", "titleX": -48, "titleY": 150, "titleAngle": 270, "titleAlign": "center", "titleBaseline": "bottom"}},
                    "strokeDash": {"field": "s", "type": "nominal",
                      "scale": {"domain": ["\"VOPT-dow-16384\"","\"GK02-dow-16384-0.01\"","\"AHIST-L-Delta-dow-16384-0.01\"","\"AHIST-B-1024-dow-16384-0.01\"","\"AHIST-B-2048-dow-16384-0.01\"","\"AHIST-B-4096-dow-16384-0.01\""],
                        "range": [[1,0],[4,2],[2,3],[1,1.5],[6,2,1,2],[3,3,1,3]]}, "legend": null}
                  }
                },
                {
                  "mark": {"type": "point", "size": 36, "strokeWidth": 1, "stroke": "black", "opacity": 1},
                  "encoding": {
                    "x": {"field": "x", "type": "quantitative"},
                    "y": {"field": "v", "type": "quantitative"},
                    "shape": {"field": "s", "type": "nominal",
                      "scale": {"domain": ["\"VOPT-dow-16384\"","\"GK02-dow-16384-0.01\"","\"AHIST-L-Delta-dow-16384-0.01\"","\"AHIST-B-1024-dow-16384-0.01\"","\"AHIST-B-2048-dow-16384-0.01\"","\"AHIST-B-4096-dow-16384-0.01\""],
                        "range": ["M-1,0H1M0,-1V1","M-1,-1L1,1M-1,1L1,-1","M-1,0H1M0,-1V1M-1,-1L1,1M-1,1L1,-1","square","square","circle"]}, "legend": null},
                    "fill": {"field": "s", "type": "nominal",
                      "scale": {"domain": ["\"VOPT-dow-16384\"","\"GK02-dow-16384-0.01\"","\"AHIST-L-Delta-dow-16384-0.01\"","\"AHIST-B-1024-dow-16384-0.01\"","\"AHIST-B-2048-dow-16384-0.01\"","\"AHIST-B-4096-dow-16384-0.01\""],
                        "range": ["black","black","black","#888888","black","transparent"]}, "legend": null}
                  }
                }
              ]
            },
            {
              "mark": {"type": "point", "opacity": 0, "size": 36, "strokeWidth": 1},
              "encoding": {
                "x": {"field": "x", "type": "quantitative", "scale": {"domain": [10, 100], "nice": false},
                  "axis": {"orient": "top", "values": [10,20,30,40,50,60,70,80,90,100], "tickCount": 30, "labels": false, "tickSize": -5, "title": null}},
                "y": {"field": "v", "type": "quantitative", "scale": {"type": "log", "domain": [0.01, 500], "nice": false},
                  "axis": {"orient": "right", "values": [0.01,0.031623,0.1,0.31623,1,3.1623,10,31.623,100,316.23], "tickCount": 30, "labels": false, "title": null,
                    "tickSize": {"condition": {"test": "indexof([0.01,0.1,1,10,100], datum.value) < 0", "value": -3}, "value": -6}}},
                "shape": {"field": "s", "type": "nominal",
                  "scale": {"domain": ["\"VOPT-dow-16384\"","\"GK02-dow-16384-0.01\"","\"AHIST-L-Delta-dow-16384-0.01\"","\"AHIST-B-1024-dow-16384-0.01\"","\"AHIST-B-2048-dow-16384-0.01\"","\"AHIST-B-4096-dow-16384-0.01\""],
                    "range": ["M-7,0H7M0,-1V1","M-7,0H7M-1,-1L1,1M-1,1L1,-1","M-7,0H7M0,-1V1M-1,-1L1,1M-1,1L1,-1","M-7,0H7M-1,-1H1V1H-1Z","M-7,0H7M-1,-1H1V1H-1Z","M-7,0H7M1,0A1,1,0,1,1,-1,0A1,1,0,1,1,1,0Z"]},
                  "legend": {"orient": "none", "legendX": 338.5, "legendY": 198.5, "title": null, "labelAlign": "right", "labelOffset": -37.5, "symbolSize": 36, "symbolStrokeWidth": 1, "symbolOpacity": 1, "padding": 0, "rowPadding": 0, "labelFontSize": 15, "labelFont": "Liberation Sans", "labelColor": "black", "labelLimit": 500}},
                "stroke": {"field": "s", "type": "nominal",
                  "scale": {"domain": ["\"VOPT-dow-16384\"","\"GK02-dow-16384-0.01\"","\"AHIST-L-Delta-dow-16384-0.01\"","\"AHIST-B-1024-dow-16384-0.01\"","\"AHIST-B-2048-dow-16384-0.01\"","\"AHIST-B-4096-dow-16384-0.01\""],
                    "range": ["black","black","black","black","black","black"]},
                  "legend": {"orient": "none", "legendX": 338.5, "legendY": 198.5, "title": null, "labelAlign": "right", "labelOffset": -37.5, "symbolSize": 36, "symbolStrokeWidth": 1, "symbolOpacity": 1, "padding": 0, "rowPadding": 0, "labelFontSize": 15, "labelFont": "Liberation Sans", "labelColor": "black", "labelLimit": 500}},
                "strokeDash": {"field": "s", "type": "nominal",
                  "scale": {"domain": ["\"VOPT-dow-16384\"","\"GK02-dow-16384-0.01\"","\"AHIST-L-Delta-dow-16384-0.01\"","\"AHIST-B-1024-dow-16384-0.01\"","\"AHIST-B-2048-dow-16384-0.01\"","\"AHIST-B-4096-dow-16384-0.01\""],
                    "range": [[1,0],[4,2],[2,3],[1,1.5],[6,2,1,2],[3,3,1,3]]},
                  "legend": {"orient": "none", "legendX": 338.5, "legendY": 198.5, "title": null, "labelAlign": "right", "labelOffset": -37.5, "symbolSize": 36, "symbolStrokeWidth": 1, "symbolOpacity": 1, "padding": 0, "rowPadding": 0, "labelFontSize": 15, "labelFont": "Liberation Sans", "labelColor": "black", "labelLimit": 500}},
                "fill": {"field": "s", "type": "nominal",
                  "scale": {"domain": ["\"VOPT-dow-16384\"","\"GK02-dow-16384-0.01\"","\"AHIST-L-Delta-dow-16384-0.01\"","\"AHIST-B-1024-dow-16384-0.01\"","\"AHIST-B-2048-dow-16384-0.01\"","\"AHIST-B-4096-dow-16384-0.01\""],
                    "range": ["black","black","black","#888888","black","transparent"]},
                  "legend": {"orient": "none", "legendX": 338.5, "legendY": 198.5, "title": null, "labelAlign": "right", "labelOffset": -37.5, "symbolSize": 36, "symbolStrokeWidth": 1, "symbolOpacity": 1, "padding": 0, "rowPadding": 0, "labelFontSize": 15, "labelFont": "Liberation Sans", "labelColor": "black", "labelLimit": 500}}
              }
            }
          ],
          "resolve": {"scale": {"x": "independent", "y": "independent", "shape": "independent", "fill": "independent", "stroke": "independent", "strokeDash": "independent"}}
        },
        {
          "width": 357, "height": 299,
          "data": {"name": "d"},
          "layer": [
            {
              "layer": [
                {
                  "mark": {"type": "line", "strokeWidth": 1, "color": "black"},
                  "encoding": {
                    "x": {"field": "x", "type": "quantitative", "scale": {"domain": [10, 100], "nice": false},
                      "axis": {"orient": "bottom", "values": [10,20,30,40,50,60,70,80,90,100], "tickCount": 30, "tickSize": -5, "labelPadding": 14, "labelOverlap": false,
                        "title": "(d) Relative error, ϵ = 0.01", "titleFont": "DejaVu Serif", "titleFontSize": 21, "titleX": 147.5, "titleY": 59, "titleAlign": "center", "titleBaseline": "alphabetic", "titleAngle": 0}},
                    "y": {"field": "v", "type": "quantitative", "scale": {"domain": [-0.00005, 0.00025], "nice": false, "zero": false},
                      "axis": {"orient": "left", "values": [-0.00005,0,0.00005,0.0001,0.00015,0.0002,0.00025], "tickCount": 30, "tickSize": -6, "labelPadding": 15, "labelOverlap": false,
                        "labelExpr": "datum.value == 0.00005 ? '5e-05' : datum.value == -0.00005 ? '-5e-05' : format(datum.value, '')",
                        "title": "(Error-VOPT)/VOPT", "titleX": -80, "titleY": 150, "titleAngle": 270, "titleAlign": "center", "titleBaseline": "bottom"}},
                    "strokeDash": {"field": "s", "type": "nominal",
                      "scale": {"domain": ["\"Err-GK02-dow-16384-0.01\"","\"Err-AHIST-L-Delta-dow-16384-0.01\"","\"Err-AHIST-B-1024-dow-16384-0.01\"","\"Err-AHIST-B-2048-dow-16384-0.01\"","\"Err-AHIST-B-4096-dow-16384-0.01\""],
                        "range": [[1,0],[4,2],[2,3],[1,1.5],[6,2,1,2]]}, "legend": null}
                  }
                },
                {
                  "mark": {"type": "point", "size": 36, "strokeWidth": 1, "stroke": "black", "opacity": 1},
                  "encoding": {
                    "x": {"field": "x", "type": "quantitative"},
                    "y": {"field": "v", "type": "quantitative"},
                    "shape": {"field": "s", "type": "nominal",
                      "scale": {"domain": ["\"Err-GK02-dow-16384-0.01\"","\"Err-AHIST-L-Delta-dow-16384-0.01\"","\"Err-AHIST-B-1024-dow-16384-0.01\"","\"Err-AHIST-B-2048-dow-16384-0.01\"","\"Err-AHIST-B-4096-dow-16384-0.01\""],
                        "range": ["M-1,0H1M0,-1V1","M-1,-1L1,1M-1,1L1,-1","M-1,0H1M0,-1V1M-1,-1L1,1M-1,1L1,-1","square","square"]}, "legend": null},
                    "fill": {"field": "s", "type": "nominal",
                      "scale": {"domain": ["\"Err-GK02-dow-16384-0.01\"","\"Err-AHIST-L-Delta-dow-16384-0.01\"","\"Err-AHIST-B-1024-dow-16384-0.01\"","\"Err-AHIST-B-2048-dow-16384-0.01\"","\"Err-AHIST-B-4096-dow-16384-0.01\""],
                        "range": ["black","black","black","transparent","black"]}, "legend": null}
                  }
                }
              ]
            },
            {
              "mark": {"type": "point", "opacity": 0, "size": 36, "strokeWidth": 1},
              "encoding": {
                "x": {"field": "x", "type": "quantitative", "scale": {"domain": [10, 100], "nice": false},
                  "axis": {"orient": "top", "values": [10,20,30,40,50,60,70,80,90,100], "tickCount": 30, "labels": false, "tickSize": -5, "title": null}},
                "y": {"field": "v", "type": "quantitative", "scale": {"domain": [-0.00005, 0.00025], "nice": false, "zero": false},
                  "axis": {"orient": "right", "values": [-0.00005,0,0.00005,0.0001,0.00015,0.0002,0.00025], "tickCount": 30, "labels": false, "title": null, "tickSize": -6}},
                "shape": {"field": "s", "type": "nominal",
                  "scale": {"domain": ["\"Err-GK02-dow-16384-0.01\"","\"Err-AHIST-L-Delta-dow-16384-0.01\"","\"Err-AHIST-B-1024-dow-16384-0.01\"","\"Err-AHIST-B-2048-dow-16384-0.01\"","\"Err-AHIST-B-4096-dow-16384-0.01\""],
                    "range": ["M-7,0H7M0,-1V1","M-7,0H7M-1,-1L1,1M-1,1L1,-1","M-7,0H7M0,-1V1M-1,-1L1,1M-1,1L1,-1","M-7,0H7M-1,-1H1V1H-1Z","M-7,0H7M-1,-1H1V1H-1Z"]},
                  "legend": {"orient": "none", "legendX": 309.5, "legendY": 2, "title": null, "labelAlign": "right", "labelOffset": -37.5, "symbolSize": 36, "symbolStrokeWidth": 1, "symbolOpacity": 1, "padding": 0, "rowPadding": 0, "labelFontSize": 15, "labelFont": "Liberation Sans", "labelColor": "black", "labelLimit": 500}},
                "stroke": {"field": "s", "type": "nominal",
                  "scale": {"domain": ["\"Err-GK02-dow-16384-0.01\"","\"Err-AHIST-L-Delta-dow-16384-0.01\"","\"Err-AHIST-B-1024-dow-16384-0.01\"","\"Err-AHIST-B-2048-dow-16384-0.01\"","\"Err-AHIST-B-4096-dow-16384-0.01\""],
                    "range": ["black","black","black","black","black"]},
                  "legend": {"orient": "none", "legendX": 309.5, "legendY": 2, "title": null, "labelAlign": "right", "labelOffset": -37.5, "symbolSize": 36, "symbolStrokeWidth": 1, "symbolOpacity": 1, "padding": 0, "rowPadding": 0, "labelFontSize": 15, "labelFont": "Liberation Sans", "labelColor": "black", "labelLimit": 500}},
                "strokeDash": {"field": "s", "type": "nominal",
                  "scale": {"domain": ["\"Err-GK02-dow-16384-0.01\"","\"Err-AHIST-L-Delta-dow-16384-0.01\"","\"Err-AHIST-B-1024-dow-16384-0.01\"","\"Err-AHIST-B-2048-dow-16384-0.01\"","\"Err-AHIST-B-4096-dow-16384-0.01\""],
                    "range": [[1,0],[4,2],[2,3],[1,1.5],[6,2,1,2]]},
                  "legend": {"orient": "none", "legendX": 309.5, "legendY": 2, "title": null, "labelAlign": "right", "labelOffset": -37.5, "symbolSize": 36, "symbolStrokeWidth": 1, "symbolOpacity": 1, "padding": 0, "rowPadding": 0, "labelFontSize": 15, "labelFont": "Liberation Sans", "labelColor": "black", "labelLimit": 500}},
                "fill": {"field": "s", "type": "nominal",
                  "scale": {"domain": ["\"Err-GK02-dow-16384-0.01\"","\"Err-AHIST-L-Delta-dow-16384-0.01\"","\"Err-AHIST-B-1024-dow-16384-0.01\"","\"Err-AHIST-B-2048-dow-16384-0.01\"","\"Err-AHIST-B-4096-dow-16384-0.01\""],
                    "range": ["black","black","black","transparent","black"]},
                  "legend": {"orient": "none", "legendX": 309.5, "legendY": 2, "title": null, "labelAlign": "right", "labelOffset": -37.5, "symbolSize": 36, "symbolStrokeWidth": 1, "symbolOpacity": 1, "padding": 0, "rowPadding": 0, "labelFontSize": 15, "labelFont": "Liberation Sans", "labelColor": "black", "labelLimit": 500}}
              }
            }
          ],
          "resolve": {"scale": {"x": "independent", "y": "independent", "shape": "independent", "fill": "independent", "stroke": "independent", "strokeDash": "independent"}}
        }
      ],
      "spacing": 141,
      "bounds": "flush"
    }
  ],
  "config": {
    "font": "Liberation Sans",
    "view": {"stroke": "black", "strokeWidth": 1},
    "axis": {"grid": false, "domain": false, "labelFont": "Liberation Sans", "labelFontSize": 15, "labelColor": "black", "titleFont": "Liberation Sans", "titleFontSize": 15, "titleFontWeight": "normal", "titleColor": "black", "tickColor": "black", "tickWidth": 1, "labelFlush": false, "labelOverlap": false, "labelBound": false},
    "legend": {"labelFont": "Liberation Sans", "labelFontSize": 15}
  }
}
